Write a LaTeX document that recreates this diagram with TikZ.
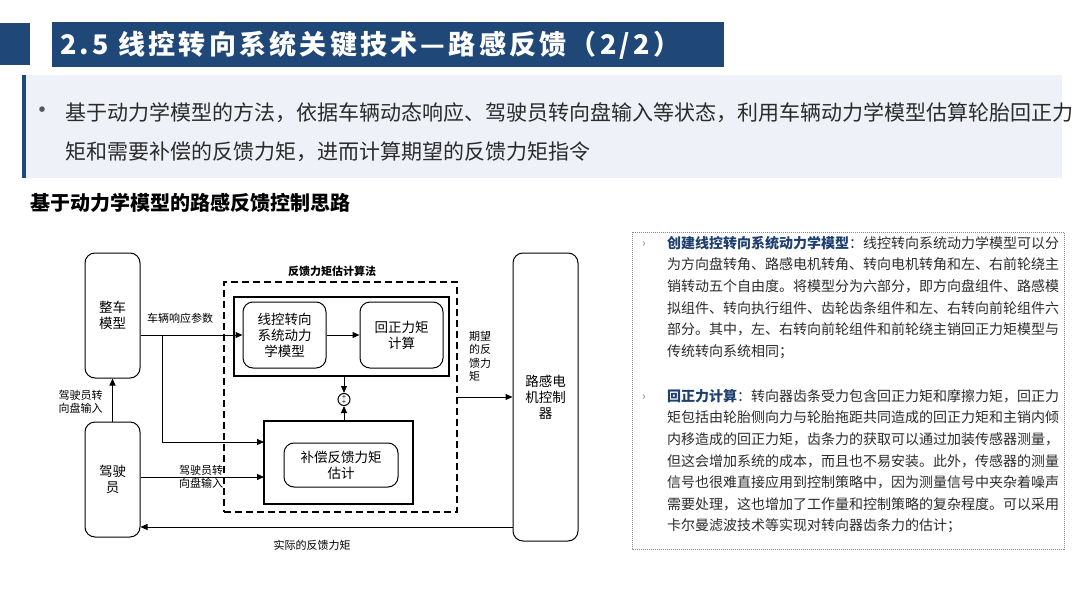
\documentclass[tikz,border=0pt]{standalone}
\usepackage{fontspec}
\setmainfont{Noto Sans CJK SC}
\usepackage{xcolor}
\usepackage{tikz}
\usetikzlibrary{arrows.meta}
\definecolor{XKNavy}{HTML}{1F4878}
\definecolor{XKPanel}{HTML}{EEF1F7}
\definecolor{XKText}{HTML}{2B2B2B}
\definecolor{XKKey}{HTML}{1F3F6E}
\definecolor{XKGray}{HTML}{8A8A8A}

\tikzset{
  blk/.style={draw, line width=1pt, rounded corners=10pt, align=center, inner sep=0pt, font=\fontsize{13.5}{16}\selectfont},
  frm/.style={draw, line width=1.8pt, inner sep=0pt},
  lbl/.style={font=\fontsize{11}{13.5}\selectfont, align=center, inner sep=0pt},
  sig/.style={line width=1pt, -{Triangle[length=7pt,width=6pt]}},
  para/.style={anchor=north west, align=left, inner sep=0pt, text=XKText, font=\fontsize{14}{21.6}\selectfont},
}

\begin{document}
\begin{tikzpicture}[x=1pt,y=-1pt]
\path[use as bounding box] (0,0) rectangle (1080,608);
\fill[XKNavy] (0,23) rectangle (30,65);
\fill[XKNavy] (52,22) rectangle (724,67);
\node[anchor=west, inner sep=0pt, text=white, font=\fontsize{27}{30}\selectfont\bfseries\addfontfeatures{LetterSpace=12}] (title) at (60,45) {2.5 线控转向系统关键技术—路感反馈（2/2）};
\fill[XKPanel] (22,75) rectangle (1062,178);
\fill[XKNavy] (22,75) rectangle (26,178);
\node[text=XKText!80, font=\fontsize{26}{26}\selectfont] (dot) at (42,113) {•};
\node[anchor=north west, align=left, inner sep=0pt, text=XKText, font=\fontsize{21}{39}\selectfont] (intro) at (65,102) {基于动力学模型的方法，依据车辆动态响应、驾驶员转向盘输入等状态，利用车辆动力学模型估算轮胎回正力\\矩和需要补偿的反馈力矩，进而计算期望的反馈力矩指令};
\node[anchor=west, inner sep=0pt, font=\fontsize{20}{22}\selectfont\bfseries] (head) at (30,203) {基于动力学模型的路感反馈控制思路};

\node[blk, minimum width=55pt, minimum height=125pt] (car) at (112.5,315.5) {整车\\模型};
\node[blk, minimum width=55pt, minimum height=115pt] (drv) at (112.5,479.5) {驾驶\\员};
\node[draw, line width=1.8pt, dash pattern=on 7pt off 4pt, minimum width=233pt, minimum height=230pt] (algbox) at (340.5,397) {};
\node[lbl, font=\fontsize{11}{13.5}\selectfont\bfseries] (algname) at (332,271) {反馈力矩估计算法};
\node[frm, minimum width=215pt, minimum height=79pt] (upfrm) at (341.5,336.5) {};
\node[blk, minimum width=83pt, minimum height=66pt] (dyn) at (284.5,335) {线控转向\\系统动力\\学模型};
\node[blk, minimum width=83pt, minimum height=66pt] (alg) at (401.5,335) {回正力矩\\计算};
\node[frm, minimum width=149pt, minimum height=83pt] (lofrm) at (338.5,462.5) {};
\node[blk, minimum width=114pt, minimum height=44pt] (comp) at (341,465) {补偿反馈力矩\\估计};
\node[draw, circle, line width=1pt, minimum size=12pt, inner sep=0pt] (sum) at (344,399.5) {};
\node[inner sep=0pt, font=\fontsize{7}{7}\selectfont] at ([yshift=2.5pt]sum.center) {+};
\node[inner sep=0pt, font=\fontsize{7}{7}\selectfont] at ([yshift=-2.5pt]sum.center) {+};
\node[blk, minimum width=65pt, minimum height=288pt] (ctrl) at (545.5,397) {路感电\\机控制\\器};

\coordinate (br) at (162,335);
\coordinate (cin) at (264,442);
\coordinate (din) at (264,477);
\coordinate (fb) at (513,527);
\draw[sig] (drv.north) -- (car.south);
\draw[sig] (car.east |- dyn.west) -- (dyn.west);
\draw[sig] (br) |- (cin);
\draw[sig] (drv.east |- din) -- (din);
\draw[sig] (dyn.east) -- (alg.west);
\draw[sig] (upfrm.south -| sum) -- (sum.north);
\draw[sig] (lofrm.north -| sum) -- (sum.south);
\draw[sig] (algbox.east) -- (ctrl.west);
\draw[sig] (fb) -- (drv.east |- fb);

\node[lbl] (lresp) at (180,318) {车辆响应参数};
\node[lbl] (lin1) at (80.5,402) {驾驶员转\\向盘输入};
\node[lbl] (lin2) at (201,477) {驾驶员转\\向盘输入};
\node[lbl, align=left, anchor=north west] (lwant) at (469,331) {期望\\的反\\馈力\\矩};
\node[lbl] (lact) at (312,545) {实际的反馈力矩};

\draw[XKGray, line width=1pt, dash pattern=on 1pt off 1pt] (632,232) rectangle (1064,549);
\node[text=XKGray, font=\fontsize{12}{12}\selectfont] (arr1) at (644,245) {›};
\node[para] (p1) at (667,236) {{\bfseries\color{XKKey}创建线控转向系统动力学模型}：线控转向系统动力学模型可以分\\为方向盘转角、路感电机转角、转向电机转角和左、右前轮绕主\\销转动五个自由度。将模型分为六部分，即方向盘组件、路感模\\拟组件、转向执行组件、齿轮齿条组件和左、右转向前轮组件六\\部分。其中，左、右转向前轮组件和前轮绕主销回正力矩模型与\\传统转向系统相同；};
\node[text=XKGray, font=\fontsize{12}{12}\selectfont] (arr2) at (644,398) {›};
\node[para] (p2) at (667,389) {{\bfseries\color{XKKey}回正力计算}：转向器齿条受力包含回正力矩和摩擦力矩，回正力\\矩包括由轮胎侧向力与轮胎拖距共同造成的回正力矩和主销内倾\\内移造成的回正力矩，齿条力的获取可以通过加装传感器测量，\\但这会增加系统的成本，而且也不易安装。此外，传感器的测量\\信号也很难直接应用到控制策略中，因为测量信号中夹杂着噪声\\需要处理，这也增加了工作量和控制策略的复杂程度。可以采用\\卡尔曼滤波技术等实现对转向器齿条力的估计；};
\end{tikzpicture}
\end{document}
